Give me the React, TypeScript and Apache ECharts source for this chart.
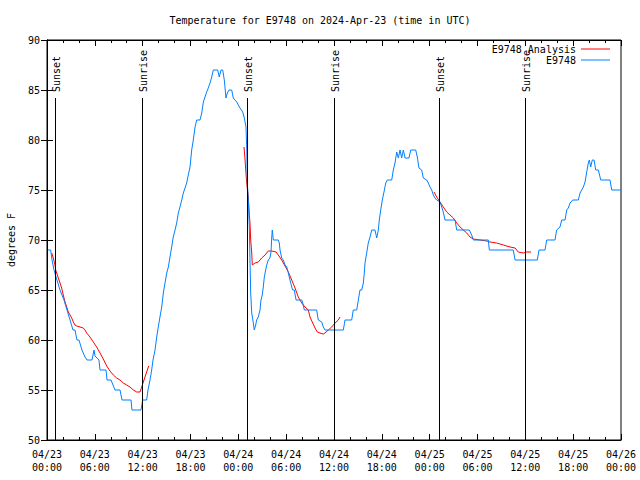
import React, { useEffect, useRef } from "react";
import * as echarts from "echarts";

const TITLE = "Temperature for E9748 on 2024-Apr-23 (time in UTC)";
const Y_NAME = "degrees F";
const X_MIN = 0;
const X_MAX = 72;
const X_STEP = 6;
const Y_MIN = 50;
const Y_MAX = 90;
const Y_STEP = 5;
const MONTH = "04";
const START_DAY = 23;

// [hours since 04/23 00:00 UTC, deg F]
const observed: [number, number][] = [
  [0.1, 69], [0.46, 69], [0.63, 68], [0.88, 67], [1.25, 66], [1.63, 65], [1.88, 64.5], [2.13, 64],
  [2.51, 63], [2.89, 62], [3.26, 61], [3.51, 61], [3.76, 60], [4.01, 60], [4.39, 59], [4.77, 58.3],
  [5.02, 58], [5.39, 58], [5.64, 58], [5.9, 59], [6.02, 58.4], [6.27, 58.2], [6.52, 58], [6.65, 57],
  [7.4, 57], [7.53, 56], [8.03, 56], [8.28, 55.5], [8.53, 55], [9.16, 55], [9.41, 54], [10.54, 54],
  [10.66, 53], [11.79, 53], [12.0, 54], [12.5, 54], [12.67, 55], [12.92, 56], [13.13, 57], [13.3, 58],
  [13.55, 59], [13.76, 60.3], [13.96, 61.3], [14.17, 62.3], [14.39, 63.3], [14.59, 64.7], [14.8, 65.7],
  [15.02, 66.7], [15.22, 67.3], [15.43, 68.3], [15.64, 69.3], [15.84, 70.3], [16.06, 71], [16.27, 71.7],
  [16.47, 72.7], [16.68, 73.3], [16.9, 74], [17.1, 74.7], [17.31, 75.2], [17.52, 75.7], [17.72, 76.5],
  [17.94, 77.3], [18.15, 79], [18.35, 80], [18.57, 81.3], [18.78, 82], [19.19, 82], [19.41, 82.7],
  [19.61, 83.8], [19.82, 84.3], [20.03, 84.8], [20.23, 85.2], [20.45, 85.7], [20.66, 86.3], [20.86, 87],
  [21.41, 87], [21.61, 86.3], [21.83, 87], [22.04, 87], [22.24, 86], [22.45, 84.2], [22.62, 84.7],
  [22.83, 85], [23.17, 85], [23.37, 84.2], [23.8, 83.8], [24.0, 83.5], [24.21, 83.2], [24.55, 82.8],
  [24.75, 82.2], [24.96, 81.3], [25.05, 79.3], [25.13, 75.7], [25.25, 74], [25.38, 71.3], [25.46, 68],
  [25.55, 64.7], [25.68, 62.7], [25.88, 61.7], [26.0, 61], [26.18, 61.5], [26.3, 62], [26.5, 62.3],
  [26.72, 63], [26.84, 64], [27.0, 64.5], [27.13, 65.3], [27.26, 66.3], [27.43, 67], [27.56, 67.5],
  [27.76, 68], [27.97, 68.2], [28.1, 68.8], [28.19, 70.3], [28.26, 71], [28.39, 70], [28.6, 70],
  [29.0, 70], [29.14, 69.7], [29.23, 69], [29.44, 68.2], [29.64, 68], [29.86, 67.5], [30.07, 67.3],
  [30.27, 66.7], [30.48, 66], [30.7, 65.3], [30.82, 65], [31.02, 65], [31.24, 64], [31.95, 64],
  [32.08, 63.7], [32.28, 63], [33.83, 63], [34.03, 62], [34.46, 61.8], [34.66, 61.3], [34.87, 61],
  [37.17, 61], [37.38, 62], [38.22, 62], [38.42, 63], [38.85, 63], [39.05, 64], [39.26, 65], [39.48, 65],
  [39.68, 65.7], [39.8, 66.7], [39.89, 67.7], [40.1, 68.7], [40.3, 69.7], [40.52, 70.3], [40.73, 71],
  [41.14, 71], [41.36, 70.2], [41.56, 71], [41.68, 72], [41.86, 73], [42.06, 74], [42.27, 74.8],
  [42.49, 75.7], [42.69, 76], [43.24, 76], [43.44, 77], [43.65, 77.7], [43.87, 78.8], [44.07, 78.2],
  [44.28, 79], [44.49, 78.2], [44.7, 79], [44.91, 78.2], [45.41, 78.2], [45.62, 79], [46.25, 79],
  [46.45, 78.3], [46.66, 77.2], [47.0, 77], [47.2, 76.2], [47.63, 76], [47.83, 75.7], [48.04, 75.3],
  [48.26, 75], [48.46, 74.5], [48.67, 74.2], [48.88, 74], [49.3, 73.8], [49.51, 73.3], [49.71, 72.8],
  [49.92, 72], [51.18, 72], [51.39, 71], [52.97, 71], [53.27, 70.5], [53.48, 70], [55.36, 70],
  [55.48, 69], [58.49, 69], [58.71, 68], [61.5, 68], [61.72, 69], [62.47, 69], [62.68, 70], [63.72, 70],
  [63.93, 71], [64.35, 71.3], [64.56, 72], [64.98, 72], [65.19, 73], [65.39, 73.2], [65.61, 73.7],
  [65.94, 74], [66.65, 74], [66.86, 74.7], [67.07, 75], [67.28, 75.3], [67.49, 75.8], [67.7, 76.8],
  [67.9, 77.7], [68.03, 78], [68.2, 77.3], [68.4, 78], [68.62, 78], [68.83, 77], [69.16, 77],
  [69.46, 76], [70.62, 76], [70.84, 75], [72, 75],
];

const analysis1: [number, number][] = [
  [0.59, 68.7], [0.79, 68.2], [1.0, 67.5], [1.09, 67], [1.42, 66.2], [1.63, 65.7], [1.84, 65.2],
  [2.04, 64.5], [2.26, 63.8], [2.47, 63.3], [2.67, 62.8], [2.89, 62.5], [3.1, 62.2], [3.3, 61.8],
  [3.51, 61.5], [3.73, 61.4], [4.14, 61.3], [4.55, 61.2], [4.77, 61], [4.98, 60.7], [5.39, 60.3],
  [5.81, 59.8], [6.23, 59.3], [6.65, 58.7], [7.06, 58.1], [7.49, 57.4], [7.9, 56.9], [8.32, 56.5],
  [8.74, 56.2], [9.16, 56], [9.57, 55.7], [10.0, 55.5], [10.41, 55.3], [10.83, 55], [11.25, 54.8],
  [11.67, 54.8], [11.88, 55.3], [12.08, 55.8], [12.29, 56.3], [12.5, 56.8], [12.76, 57.4],
];
const analysis2: [number, number][] = [
  [24.71, 79.3], [24.8, 78.5], [24.93, 77], [25.05, 75.7], [25.25, 74.3], [25.38, 72.5], [25.46, 71.7],
  [25.55, 70], [25.68, 68.7], [25.75, 67.5], [26.09, 67.7], [26.51, 67.8], [26.93, 68.2], [27.35, 68.5],
  [27.76, 68.9], [28.19, 68.9], [28.73, 68.8], [29.01, 68.5], [29.44, 68], [29.86, 67.4], [30.27, 66.8],
  [30.7, 66], [31.11, 65.2], [31.52, 64.3], [31.95, 63.7], [32.36, 63.3], [32.78, 63], [32.99, 62.3],
  [33.33, 61.7], [33.62, 61.2], [33.91, 60.8], [34.25, 60.7], [34.66, 60.6], [34.87, 60.7], [35.29, 61],
  [35.71, 61.3], [36.13, 61.7], [36.54, 62], [36.75, 62.3],
];
const analysis3: [number, number][] = [
  [48.55, 74.8], [48.88, 74.3], [49.3, 73.8], [49.71, 73.3], [50.14, 72.8], [50.55, 72.5], [50.97, 72.2],
  [51.39, 71.7], [51.81, 71.3], [52.22, 71], [52.65, 70.7], [53.06, 70.3], [53.48, 70.1], [54.32, 70],
  [55.16, 69.9], [55.57, 69.8], [56.41, 69.7], [57.24, 69.5], [58.08, 69.3], [58.71, 69.2], [59.12, 68.8],
  [59.75, 68.7], [60.18, 68.8], [60.71, 68.8],
];

const sunHours = [1.04, 11.96, 25.13, 36.04, 49.2, 60.0];
const sunLabels = ["Sunset", "Sunrise", "Sunset", "Sunrise", "Sunset", "Sunrise"];
const SUN_TOP = 84.2;

const FONT = "DejaVu Sans Mono";
const RED = "#ff0000";
const BLUE = "#0080ff";

function fmtX(h: number): string {
  const day = START_DAY + Math.floor(h / 24);
  const hr = Math.round(h % 24);
  return `${MONTH}/${day}\n${String(hr).padStart(2, "0")}:00`;
}

export default function App() {
  const ref = useRef<HTMLDivElement>(null);
  useEffect(() => {
    if (!ref.current) return;
    const chart = echarts.init(ref.current, undefined, { renderer: "svg" });
    const analysisData: any[] = [...analysis1, null, ...analysis2, null, ...analysis3].map((p) =>
      p === null ? [null, null] : p
    );
    const tickCommon = {
      axisTick: { show: true, inside: true, length: 6, lineStyle: { color: "#000" } },
      axisLine: { show: true, lineStyle: { color: "#000", width: 1 } },
      splitLine: { show: false },
    };
    chart.setOption({
      animation: false,
      backgroundColor: "#fff",
      title: {
        text: TITLE,
        left: "center",
        top: 10,
        textStyle: { fontFamily: FONT, fontSize: 10, fontWeight: "normal", color: "#000" },
      },
      legend: {
        orient: "vertical",
        right: 30,
        top: 44,
        padding: 0,
        align: "right",
        itemWidth: 29,
        itemHeight: 1,
        itemGap: 1,
        icon: "rect",
        textStyle: { fontFamily: FONT, fontSize: 10, color: "#000" },
        data: [
          { name: "E9748 Analysis", icon: "rect", itemStyle: { color: RED } },
          { name: "E9748", icon: "rect", itemStyle: { color: BLUE } },
        ],
      },
      grid: {
        left: 47,
        right: 19,
        top: 40,
        bottom: 40,
        show: true,
        borderColor: "#000",
        borderWidth: 1,
        backgroundColor: "transparent",
        containLabel: false,
        outerBoundsMode: "none",
      },
      xAxis: [
        {
          type: "value",
          min: X_MIN,
          max: X_MAX,
          interval: X_STEP,
          position: "bottom",
          ...tickCommon,
          minorTick: { show: true, splitNumber: 3, length: 3, lineStyle: { color: "#000" } },
          axisLabel: {
            formatter: fmtX,
            fontFamily: FONT,
            fontSize: 10,
            color: "#000",
            margin: 8,
            lineHeight: 13,
          },
        },
        {
          type: "value",
          min: X_MIN,
          max: X_MAX,
          interval: X_STEP,
          position: "top",
          ...tickCommon,
          minorTick: { show: true, splitNumber: 3, length: 3, lineStyle: { color: "#000" } },
          axisLabel: { show: false },
        },
      ],
      yAxis: [
        {
          type: "value",
          min: Y_MIN,
          max: Y_MAX,
          interval: Y_STEP,
          position: "left",
          ...tickCommon,
          name: Y_NAME,
          nameLocation: "middle",
          nameGap: 31,
          nameRotate: 90,
          nameTextStyle: { fontFamily: FONT, fontSize: 10, color: "#000" },
          axisLabel: { fontFamily: FONT, fontSize: 10, color: "#000", margin: 7 },
        },
        {
          type: "value",
          min: Y_MIN,
          max: Y_MAX,
          interval: Y_STEP,
          position: "right",
          ...tickCommon,
          axisLabel: { show: false },
        },
      ],
      series: [
        {
          name: "E9748 Analysis",
          type: "line",
          data: analysisData,
          symbol: "none",
          connectNulls: false,
          color: RED,
          lineStyle: { color: RED, width: 1 },
          z: 2,
        },
        {
          name: "E9748",
          type: "line",
          data: observed,
          symbol: "none",
          color: BLUE,
          lineStyle: { color: BLUE, width: 1 },
          z: 3,
          markLine: {
            silent: true,
            symbol: "none",
            label: { show: false },
            lineStyle: { color: "#000", width: 1, type: "solid" },
            data: sunHours.map((h) => [
              { coord: [h, Y_MIN] },
              { coord: [h, SUN_TOP] },
            ]),
          },
        },
      ],
    });
    const graphics = sunHours.map((h, i) => {
      const p = chart.convertToPixel({ xAxisIndex: 0, yAxisIndex: 0 }, [h, SUN_TOP]) as number[];
      return {
        type: "text",
        x: p[0] + 1,
        y: p[1] - 6,
        rotation: Math.PI / 2,
        silent: true,
        style: {
          text: sunLabels[i],
          fontFamily: FONT,
          fontSize: 10,
          fill: "#000",
          align: "left",
          verticalAlign: "middle",
        },
      };
    });
    chart.setOption({ graphic: graphics });
    return () => chart.dispose();
  }, []);
  return (
    <div
      ref={ref}
      style={{ width: 640, height: 480, position: "fixed", left: 0, top: 0 }}
    />
  );
}
